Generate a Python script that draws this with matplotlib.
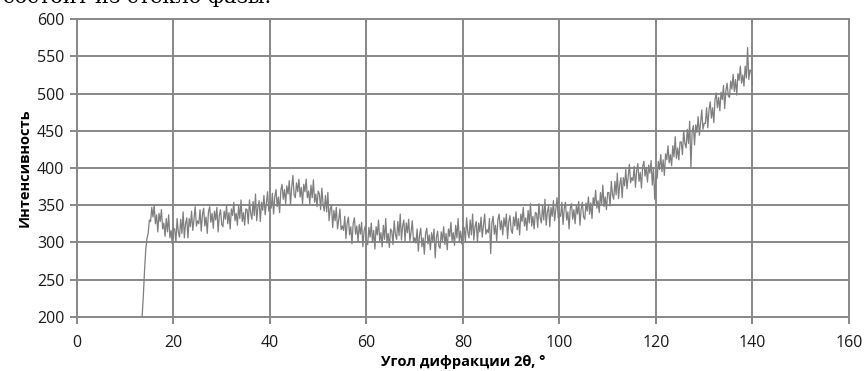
import numpy as np
import matplotlib
matplotlib.use('Agg')
import matplotlib.pyplot as plt

# угол 2θ: от 13.5 до 140 с шагом 0.25
angle_start = 13.5
angle_step = 0.25

rise = [200, 228, 262, 290, 305, 312, 330]
i_15_20 = [328, 347, 334, 350, 325, 337, 314, 339, 328, 344, 318, 326, 308, 332, 314, 337, 306, 316, 298, 319]
i_20_25 = [318, 300, 332, 314, 307, 331, 312, 341, 306, 325, 333, 306, 332, 321, 342, 316, 331, 348, 322, 329]
i_25_30 = [325, 344, 315, 337, 346, 322, 334, 312, 341, 348, 327, 339, 319, 342, 330, 347, 314, 336, 344, 324]
i_30_35 = [321, 342, 331, 349, 325, 340, 318, 345, 336, 354, 329, 339, 323, 349, 332, 357, 328, 340, 323, 345]
i_35_40 = [344, 325, 357, 339, 331, 355, 336, 365, 329, 348, 356, 328, 354, 343, 363, 337, 352, 368, 342, 349]
i_40_45 = [346, 366, 338, 361, 371, 348, 361, 340, 370, 378, 358, 371, 352, 376, 365, 383, 351, 374, 390, 364]
i_45_50 = [360, 380, 368, 385, 361, 374, 352, 378, 368, 385, 360, 369, 352, 377, 360, 384, 354, 365, 348, 369]
i_50_55 = [365, 344, 373, 352, 342, 363, 341, 367, 329, 345, 350, 320, 343, 329, 347, 318, 330, 345, 317, 322]
i_55_60 = [316, 335, 305, 326, 334, 310, 321, 298, 326, 333, 311, 322, 301, 324, 311, 327, 294, 315, 322, 302]
i_60_65 = [297, 320, 307, 326, 300, 316, 291, 321, 310, 330, 302, 313, 294, 323, 304, 332, 299, 312, 293, 318]
i_65_70 = [315, 297, 329, 311, 304, 328, 309, 338, 303, 322, 330, 302, 326, 313, 331, 302, 314, 329, 301, 306]
i_70_75 = [299, 318, 288, 310, 319, 294, 306, 284, 312, 319, 298, 310, 290, 313, 301, 318, 279, 307, 315, 295]
i_75_80 = [292, 314, 302, 321, 297, 312, 290, 318, 308, 327, 302, 313, 296, 323, 306, 332, 302, 315, 298, 321]
i_80_85 = [320, 301, 333, 314, 306, 330, 310, 338, 303, 321, 328, 300, 326, 314, 334, 307, 322, 338, 311, 317]
i_85_90 = [313, 332, 285, 326, 335, 311, 323, 302, 331, 338, 317, 329, 310, 333, 321, 338, 305, 328, 336, 316]
i_90_95 = [312, 334, 322, 341, 317, 332, 310, 338, 328, 347, 322, 333, 316, 343, 326, 352, 322, 335, 318, 340]
i_95_100 = [339, 320, 352, 333, 326, 349, 330, 358, 323, 341, 349, 321, 347, 335, 356, 329, 344, 360, 333, 339]
i_100_105 = [335, 354, 324, 346, 354, 330, 341, 318, 346, 352, 331, 344, 325, 349, 338, 355, 323, 345, 354, 334]
i_105_110 = [331, 353, 342, 361, 338, 353, 332, 360, 351, 370, 346, 356, 340, 367, 351, 377, 348, 361, 344, 367]
i_110_115 = [367, 349, 382, 364, 358, 382, 364, 393, 359, 378, 387, 360, 387, 376, 398, 372, 388, 405, 380, 387]
i_115_120 = [383, 402, 374, 396, 406, 382, 394, 373, 402, 409, 389, 401, 381, 404, 393, 410, 377, 399, 358, 388]
i_120_125 = [386, 409, 398, 418, 395, 411, 390, 419, 411, 430, 407, 418, 403, 430, 415, 442, 413, 427, 411, 435]
i_125_130 = [435, 418, 450, 433, 427, 452, 433, 463, 400, 449, 457, 431, 458, 448, 469, 444, 460, 478, 452, 460]
i_130_135 = [460, 481, 454, 478, 489, 467, 481, 461, 492, 501, 481, 495, 477, 502, 492, 511, 480, 504, 514, 497]
i_135_140 = [495, 517, 506, 526, 503, 519, 498, 527, 518, 537, 514, 525, 510, 537, 521, 562, 519, 532, 530, 512]

intensity = (rise + i_15_20 + i_20_25 + i_25_30 + i_30_35 + i_35_40 + i_40_45
             + i_45_50 + i_50_55 + i_55_60 + i_60_65 + i_65_70 + i_70_75 + i_75_80
             + i_80_85 + i_85_90 + i_90_95 + i_95_100 + i_100_105 + i_105_110
             + i_110_115 + i_115_120 + i_120_125 + i_125_130 + i_130_135 + i_135_140)
angle = angle_start + angle_step * np.arange(len(intensity))

x_ticks = [0, 20, 40, 60, 80, 100, 120, 140, 160]
y_ticks = [200, 250, 300, 350, 400, 450, 500, 550, 600]

grid_col = '#888888'

fig = plt.figure(figsize=(8.68, 3.71), dpi=100)
ax = fig.add_axes([0.0887, 0.1464, 0.8893, 0.8016])

ax.plot(angle, intensity, color='#7f7f7f', lw=0.9)

ax.set_xlim(0, 160)
ax.set_ylim(200, 600)
ax.set_xticks(x_ticks)
ax.set_yticks(y_ticks)
ax.grid(True, color=grid_col, lw=1.4)
ax.set_axisbelow(True)
for s in ax.spines.values():
    s.set_color(grid_col)
    s.set_linewidth(1.4)

ax.tick_params(color=grid_col, width=1.4, length=5, labelsize=11.5,
               labelcolor='#1a1a1a')
for lab in ax.get_xticklabels() + ax.get_yticklabels():
    lab.set_family('Open Sans')
ax.tick_params(axis='x', pad=8)
ax.tick_params(axis='y', pad=4)

ax.set_xlabel('Угол дифракции 2θ, °', fontsize=10.5, fontweight='bold',
              family='Open Sans', labelpad=3)
ax.set_ylabel('Интенсивность', fontsize=10.5, fontweight='bold',
              family='Open Sans', labelpad=4)

# обрезанная строка текста сверху (в оригинале видна только нижняя часть)
fig.text(0.003, 1 - 3 / 371, 'состоит из стекло фазы.', fontsize=15,
         family='DejaVu Serif', va='baseline', ha='left', color='black')

plt.savefig('out.png', dpi=100)
